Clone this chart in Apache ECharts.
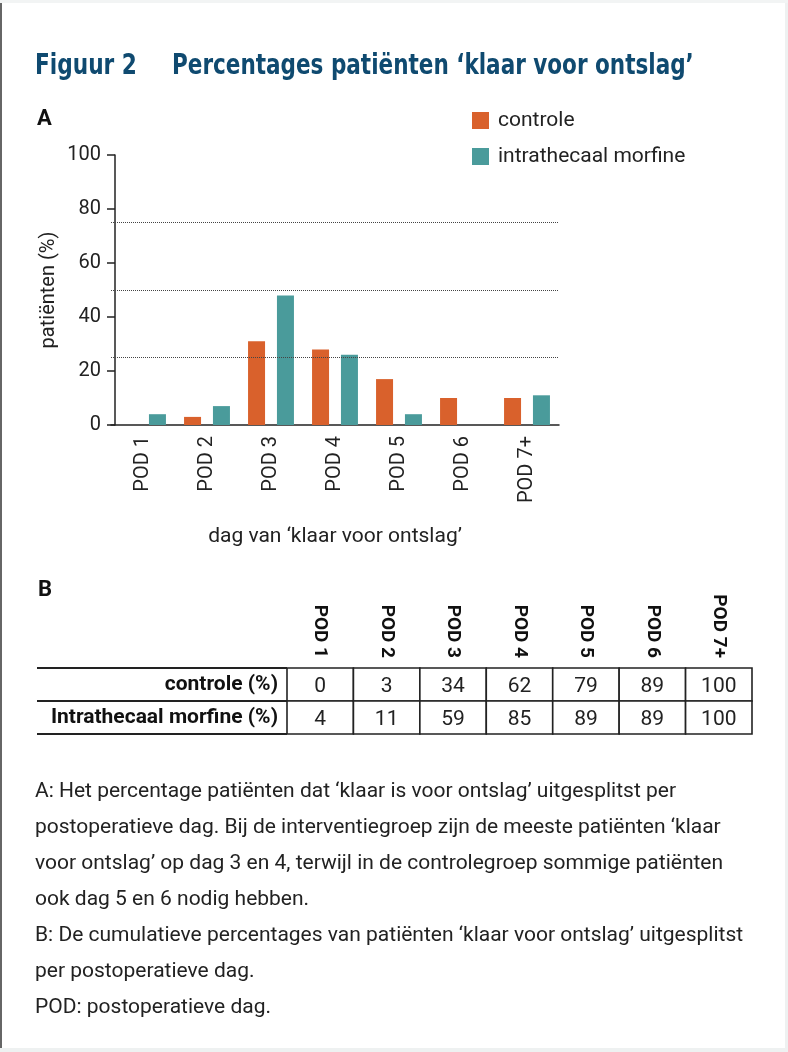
<!DOCTYPE html>
<html>
<head>
<meta charset="utf-8">
<script src="https://cdn.jsdelivr.net/npm/echarts@6/dist/echarts.min.js"></script>
<style>
html,body{margin:0;padding:0;background:#fff;}
#c{width:788px;height:1052px;}
</style>
</head>
<body>
<div id="c"></div>
<script>
// ---- data ----
const categories = ['POD 1','POD 2','POD 3','POD 4','POD 5','POD 6','POD 7+'];
const controle = [0, 3, 31, 28, 17, 10, 10];
const morfine = [4, 7, 48, 26, 4, 0, 11];
const refLines = [25, 50, 75];
const tableRows = ['controle (%)', 'Intrathecaal morfine (%)'];
const controleCum = [0, 3, 34, 62, 79, 89, 100];
const morfineCum = [4, 11, 59, 85, 89, 89, 100];
const captionLines = [
  "A: Het percentage patiënten dat \u2018klaar is voor ontslag\u2019 uitgesplitst per",
  "postoperatieve dag. Bij de interventiegroep zijn de meeste patiënten \u2018klaar",
  "voor ontslag\u2019 op dag 3 en 4, terwijl in de controlegroep sommige patiënten",
  "ook dag 5 en 6 nodig hebben.",
  "B: De cumulatieve percentages van patiënten \u2018klaar voor ontslag\u2019 uitgesplitst",
  "per postoperatieve dag.",
  "POD: postoperatieve dag."
];

const FONT = 'Roboto, "DejaVu Sans", sans-serif';
const TFONT = '"DejaVu Sans Condensed", "DejaVu Sans", Roboto, sans-serif';
const ORANGE = '#d9612c';
const TEAL = '#4a9b9b';
const TXT = '#222';

const tableData = [];
categories.forEach((c, i) => {
  tableData.push([c, tableRows[0], controleCum[i]]);
  tableData.push([c, tableRows[1], morfineCum[i]]);
});

const graphics = [
  {type:'text', x:35, y:53, scaleX:0.86, style:{text:'Figuur 2', x:0, y:0, font:'bold 28px ' + TFONT, fill:'#0f4a70'}},
  {type:'text', x:172, y:53, scaleX:0.855, style:{text:'Percentages patiënten \u2018klaar voor ontslag\u2019', x:0, y:0, font:'bold 28px ' + TFONT, fill:'#0f4a70'}},
  {type:'text', left:37, top:108, style:{text:'A', font:'bold 22px ' + FONT, fill:'#111'}},
  {type:'text', left:38, top:579, style:{text:'B', font:'bold 22px ' + FONT, fill:'#111'}},
  {type:'rect', shape:{x:0, y:0, width:2, height:1052}, style:{fill:'#666'}},
  {type:'rect', shape:{x:0, y:1048, width:788, height:4}, style:{fill:'#eef1f1'}},
  {type:'rect', shape:{x:785, y:0, width:3, height:1052}, style:{fill:'#eef1f1'}},
  {type:'rect', shape:{x:0, y:0, width:788, height:3}, style:{fill:'#f2f4f4'}}
];
captionLines.forEach((t, i) => {
  graphics.push({type:'text', left:35, top:781 + i * 36, style:{text:t, font:'21px ' + FONT, fill:TXT}});
});

const chart = echarts.init(document.getElementById('c'), null, {renderer:'canvas'});
chart.setOption({
  animation:false,
  backgroundColor:'#fff',
  textStyle:{fontFamily:FONT},
  graphic:graphics,
  legend:{
    data:['controle','intrathecaal morfine'],
    orient:'vertical', left:467, top:105, itemWidth:17, itemHeight:17, itemGap:15,
    icon:'rect',
    textStyle:{fontSize:21, color:TXT, fontFamily:FONT, padding:[0,0,0,4]}
  },
  grid:[
    {left:111, right:229, top:155, bottom:627},
    {left:287, right:36, top:668, bottom:318}
  ],
  xAxis:[
    {
      type:'category', gridIndex:0, data:categories,
      axisLine:{lineStyle:{color:'#222', width:1.5}},
      axisTick:{alignWithLabel:true, length:10, lineStyle:{color:'#222', width:1.5}},
      axisLabel:{rotate:90, fontSize:20, color:TXT, margin:11, fontFamily:FONT},
      name:'dag van \u2018klaar voor ontslag\u2019', nameLocation:'middle', nameGap:101,
      nameTextStyle:{fontSize:21, color:TXT, fontFamily:FONT}
    },
    {
      type:'category', gridIndex:1, data:categories, position:'top',
      axisLine:{show:false}, axisTick:{show:false},
      axisLabel:{rotate:90, fontSize:19, fontWeight:'bold', color:'#111', margin:10, fontFamily:FONT},
      splitLine:{show:false}
    }
  ],
  yAxis:[
    {
      type:'value', gridIndex:0, min:0, max:100, interval:20, offset:-4,
      axisLine:{show:true, lineStyle:{color:'#222', width:1.5}},
      axisTick:{show:true, length:8, lineStyle:{color:'#222', width:1.5}},
      axisLabel:{fontSize:20, color:TXT, margin:14, fontFamily:FONT},
      splitLine:{show:false},
      name:'patiënten (%)', nameLocation:'middle', nameGap:56, nameRotate:90, nameMoveOverlap:false,
      nameTextStyle:{fontSize:20, color:TXT, fontFamily:FONT}
    },
    {
      type:'category', gridIndex:1, data:tableRows, inverse:true,
      axisLine:{show:false},
      axisTick:{show:true, length:250, lineStyle:{color:'#222', width:2}},
      axisLabel:{fontSize:21, fontWeight:'bold', color:'#111', margin:9, fontFamily:FONT},
      splitLine:{show:false}
    }
  ],
  series:[
    {
      name:'controle', type:'bar', xAxisIndex:0, yAxisIndex:0, data:controle,
      barWidth:17, barGap:'70%', itemStyle:{color:ORANGE},
      markLine:{
        silent:true, symbol:'none', label:{show:false},
        lineStyle:{color:'#444', type:'dotted', width:1},
        data:refLines.map(v => ({yAxis:v}))
      }
    },
    {
      name:'intrathecaal morfine', type:'bar', xAxisIndex:0, yAxisIndex:0, data:morfine,
      barWidth:17, barGap:'70%', itemStyle:{color:TEAL}
    },
    {
      type:'custom', xAxisIndex:1, yAxisIndex:1, data:tableData,
      encode:{x:0, y:1},
      renderItem:function(params, api){
        const p = api.coord([api.value(0), api.value(1)]);
        const s = api.size([1, 1]);
        return {type:'group', children:[
          {type:'rect', shape:{x:p[0]-s[0]/2, y:p[1]-s[1]/2, width:s[0], height:s[1]},
           style:{fill:'#fff', stroke:'#222', lineWidth:1.6}},
          {type:'text', style:{text:String(api.value(2)), x:p[0], y:p[1]+2, align:'center', verticalAlign:'middle',
            font:'21px ' + FONT, fill:TXT}}
        ]};
      }
    }
  ]
});
</script>
</body>
</html>
